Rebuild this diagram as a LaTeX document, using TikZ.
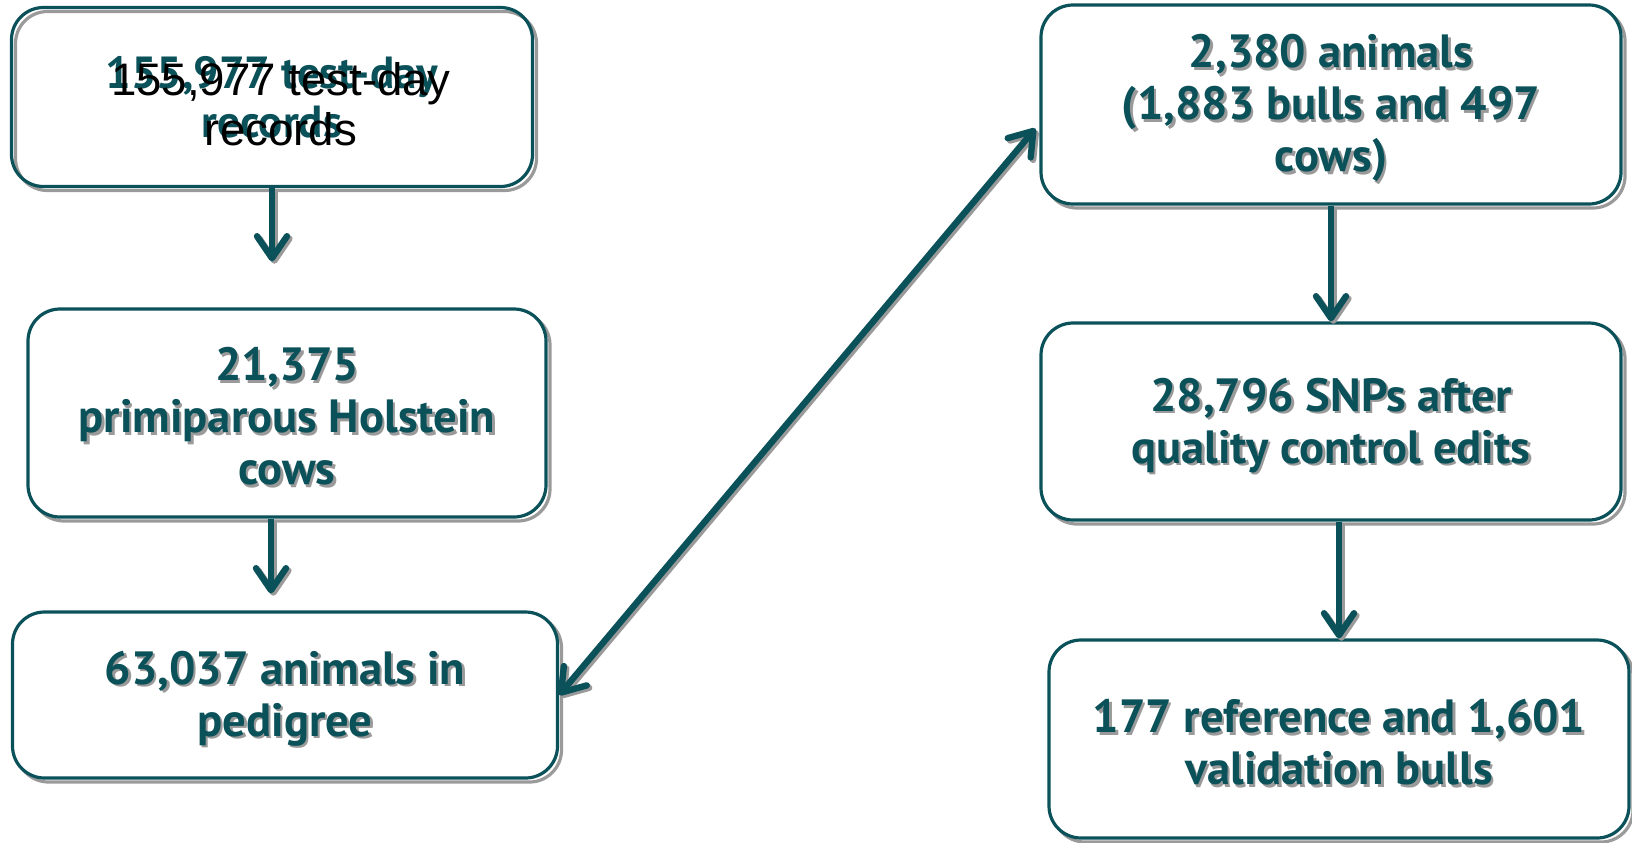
\documentclass[tikz,border=0pt]{standalone}
\usepackage{fontspec}
\setmainfont{PT Sans}
\newfontfamily\arialfont{Liberation Sans}
\usetikzlibrary{arrows.meta}

\definecolor{boxteal}{HTML}{0B5159}
\definecolor{shadegray}{HTML}{9A9A9A}
% text with a small grey shadow
\newcommand\shd[1]{\makebox[0pt][l]{\hspace{1.2pt}\raisebox{-1.2pt}{\textcolor{shadegray}{#1}}}#1}
\newcommand\topstrut{\rule{0pt}{21.5pt}}

\begin{document}
\begin{tikzpicture}[
	x = 0.5pt, y = -0.5pt,
	>={Straight Barb[length=11pt,width=15pt,round]},
	stepbox/.style = {draw=boxteal, line width=1.6pt, rounded corners=16pt, fill=white,
		align=center, text=boxteal, inner sep=0pt,
		font=\bfseries\fontsize{23.3}{26}\selectfont,
		preaction={draw=shadegray, line width=1.6pt, transform canvas={shift={(2pt,-2pt)}}}},
	flow/.style = {draw=boxteal, line width=3.2pt, ->,
		preaction={draw=shadegray, line width=3.2pt, transform canvas={shift={(1.2pt,-1.2pt)}}}}]

	\useasboundingbox (0,0) rectangle (1632,842);

	% left column
	\node[stepbox, fill=none, font=\bfseries\fontsize{22.5}{24.5}\selectfont, minimum width=260.5pt, minimum height=89.5pt] (recs) at (272,97) {155,977 test-day\\records};
	\node[font=\arialfont\fontsize{22.8}{25}\selectfont, align=center, text=black] (recsblack) at (281,104) {155,977 test-day\\records};
	\node[stepbox, minimum width=259pt, minimum height=104pt] (cows) at (287,413) {\topstrut\shd{21,375}\\\shd{primiparous Holstein}\\\shd{cows}};
	\node[stepbox, minimum width=272.5pt, minimum height=83pt] (pedig) at (285,695) {\topstrut\shd{63,037 animals in}\\\shd{pedigree}};

	% right column
	\node[stepbox, minimum width=290pt, minimum height=99.5pt] (geno) at (1331,104.5) {\topstrut\shd{2,380 animals}\\\shd{(1,883 bulls and 497}\\\shd{cows)}};
	\node[stepbox, minimum width=290pt, minimum height=98.5pt] (snps) at (1331,421.5) {\topstrut\shd{28,796 SNPs after}\\\shd{quality control edits}};
	\node[stepbox, minimum width=290pt, minimum height=99pt] (bulls) at (1339,739) {\topstrut\shd{177 reference and 1,601}\\\shd{validation bulls}};

	\draw[flow, shorten >=23pt] (recs.south) -- (recs.south |- cows.north);
	\draw[flow, shorten >=8.5pt] ([xshift=-8pt]cows.south) -- ([xshift=-8pt]cows.south |- pedig.north);
	\draw[flow] (geno.south) -- (snps.north);
	\draw[flow] (snps.south -| bulls.north) -- (bulls.north);

	\draw[flow, <->] (pedig.east) -- ([shift={(-4,24)}]geno.west);

\end{tikzpicture}
\end{document}
